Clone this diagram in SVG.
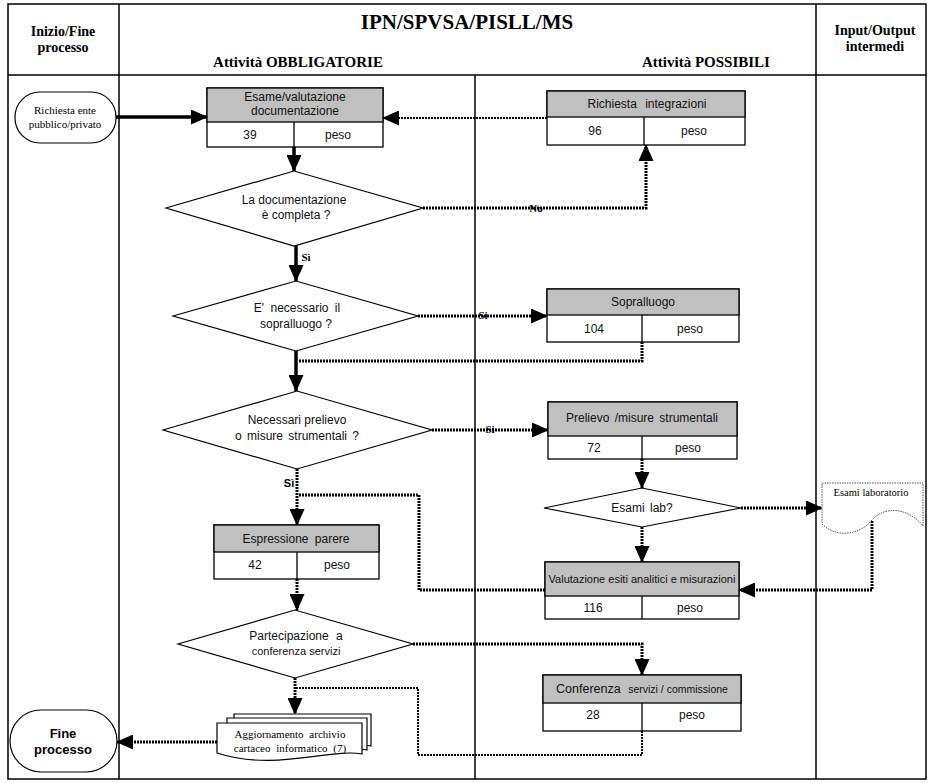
<svg xmlns="http://www.w3.org/2000/svg" width="935" height="783" viewBox="0 0 935 783">
<style>
.frame{fill:none;stroke:#000;stroke-width:1.5}
.box{fill:#fff;stroke:#000;stroke-width:1.3}
.hdr{fill:#c0c0c0;stroke:#000;stroke-width:1.3}
.sh{fill:#fff;stroke:#000;stroke-width:1.2}
.t{font-family:"Liberation Sans",Arial,sans-serif;font-size:12px;fill:#111;text-anchor:middle}
.t11{font-size:11px}
.s{font-family:"Liberation Serif","Times New Roman",serif;fill:#000;text-anchor:middle}
.hb{font-family:"Liberation Serif","Times New Roman",serif;font-weight:bold;fill:#000;text-anchor:middle}
.solid{fill:none;stroke:#000;stroke-width:3.5}
.dot{fill:none;stroke:#000;stroke-width:3;stroke-dasharray:2 1}
.thin{fill:none;stroke:#000;stroke-width:2;stroke-dasharray:2 1}
</style>
<defs>
<marker id="ah" markerUnits="userSpaceOnUse" markerWidth="17" markerHeight="15" viewBox="0 0 17 15" refX="16" refY="7.5" orient="auto">
<path d="M0,0 L17,7.5 L0,15 Z" fill="#000"/>
</marker>
</defs>
<rect width="935" height="783" fill="#fff"/>
<g id="frame">
<rect class="frame" x="8" y="4" width="918" height="775"/>
<line class="frame" x1="8" y1="75" x2="926" y2="75"/>
<line class="frame" x1="119" y1="4" x2="119" y2="779"/>
<line class="frame" x1="816" y1="4" x2="816" y2="779"/>
<line class="frame" x1="475" y1="75" x2="475" y2="779"/>
<text class="hb" x="63" y="36" font-size="14">Inizio/Fine</text>
<text class="hb" x="63" y="52" font-size="14">processo</text>
<text class="hb" x="467" y="29" font-size="21">IPN/SPVSA/PISLL/MS</text>
<text class="hb" x="298" y="67" font-size="15">Attività OBBLIGATORIE</text>
<text class="hb" x="706" y="67" font-size="15">Attività POSSIBILI</text>
<text class="hb" x="875" y="35" font-size="14">Input/Output</text>
<text class="hb" x="875" y="51" font-size="14">intermedi</text>
</g>
<g id="connectors">
<path class="solid" d="M116,117 H207" marker-end="url(#ah)"/>
<path class="solid" d="M294,147 V171" marker-end="url(#ah)"/>
<path class="thin" d="M547,118 H383" marker-end="url(#ah)"/>
<path class="dot" d="M423,208 H646 V145" marker-end="url(#ah)"/>
<path class="solid" d="M296,246 V281" marker-end="url(#ah)"/>
<path class="dot" d="M418,316 H547" marker-end="url(#ah)"/>
<path class="solid" d="M296,351 V391" marker-end="url(#ah)"/>
<path class="dot" d="M642,342 V361 H298"/>
<path class="dot" d="M432,430 H548" marker-end="url(#ah)"/>
<path class="dot" d="M642,459 V488" marker-end="url(#ah)"/>
<path class="dot" d="M741,508 H822" marker-end="url(#ah)"/>
<path class="dot" d="M642,527 V562" marker-end="url(#ah)"/>
<path class="dot" d="M872,521 V590 H739" marker-end="url(#ah)"/>
<path class="dot" d="M545,590 H419 V495 H298"/>
<path class="dot" d="M297,469 V525" marker-end="url(#ah)"/>
<path class="dot" d="M297,579 V610" marker-end="url(#ah)"/>
<path class="dot" d="M413,644 H642 V675" marker-end="url(#ah)"/>
<path class="thin" d="M642,731 V755 H418 V688 H296"/>
<path class="dot" d="M295,678 V714" marker-end="url(#ah)"/>
<path class="dot" d="M217,742 H117" marker-end="url(#ah)"/>
<text class="hb" x="536" y="212" font-size="11">No</text>
<text class="hb" x="306" y="261" font-size="11">Sì</text>
<text class="hb" x="483" y="319" font-size="11">Si</text>
<text class="hb" x="490" y="433" font-size="11">Si</text>
<text x="289" y="487" font-family="Liberation Sans,Arial,sans-serif" font-weight="bold" font-size="11" text-anchor="middle">Sì</text>
</g>
<g id="start">
<rect class="sh" x="15" y="92" width="101" height="51" rx="25" ry="25"/>
<text class="s" x="65" y="114" font-size="11">Richiesta ente</text>
<text class="s" x="65" y="128" font-size="11">pubblico/privato</text>
</g>
<g id="esame">
<rect class="box" x="207" y="88" width="176" height="59"/>
<rect class="hdr" x="207" y="88" width="176" height="34"/>
<line class="box" x1="294" y1="122" x2="294" y2="147"/>
<text class="t" x="295" y="101">Esame/valutazione</text>
<text class="t" x="295" y="115">documentazione</text>
<text class="t" x="250" y="139">39</text>
<text class="t" x="338" y="139">peso</text>
</g>
<g id="integrazioni">
<rect class="box" x="547" y="91" width="198" height="54"/>
<rect class="hdr" x="547" y="91" width="198" height="26"/>
<line class="box" x1="644" y1="117" x2="644" y2="145"/>
<text class="t" x="647" y="108" word-spacing="5">Richiesta integrazioni</text>
<text class="t" x="595" y="135">96</text>
<text class="t" x="694" y="135">peso</text>
</g>
<g id="d-completa">
<polygon class="sh" points="166,208 294,171 423,208 294,246"/>
<text class="t" x="294" y="204">La documentazione</text>
<text class="t" x="296" y="219">è completa ?</text>
</g>
<g id="d-sopralluogo">
<polygon class="sh" points="173,316 296,281 418,316 296,351"/>
<text class="t" x="297" y="312" word-spacing="3">E' necessario il</text>
<text class="t" x="296" y="328">sopralluogo ?</text>
</g>
<g id="sopralluogo">
<rect class="box" x="547" y="289" width="192" height="53"/>
<rect class="hdr" x="547" y="289" width="192" height="26"/>
<line class="box" x1="642" y1="315" x2="642" y2="342"/>
<text class="t" x="643" y="306">Sopralluogo</text>
<text class="t" x="594" y="333">104</text>
<text class="t" x="690" y="333">peso</text>
</g>
<g id="d-prelievo">
<polygon class="sh" points="163,430 297,391 432,430 297,469"/>
<text class="t" x="297" y="424">Necessari prelievo</text>
<text class="t" x="297" y="440" word-spacing="2">o misure strumentali ?</text>
</g>
<g id="prelievo">
<rect class="box" x="548" y="402" width="189" height="57"/>
<rect class="hdr" x="548" y="402" width="189" height="34"/>
<line class="box" x1="642" y1="436" x2="642" y2="459"/>
<text class="t" x="642" y="422" word-spacing="2">Prelievo /misure strumentali</text>
<text class="t" x="594" y="452">72</text>
<text class="t" x="688" y="452">peso</text>
</g>
<g id="d-esamilab">
<polygon class="sh" points="544,508 642,488 741,508 642,527"/>
<text class="t" x="642" y="512" word-spacing="2">Esami lab?</text>
</g>
<g id="esami-laboratorio">
<path d="M822,483 H923 V526 C908,507 884,506 872,520 C862,533 838,540 822,524 Z" fill="#fff" stroke="#555" stroke-width="1" stroke-dasharray="1.5 1"/>
<text class="s" x="871" y="496" font-size="10.5">Esami laboratorio</text>
</g>
<g id="valutazione">
<rect class="box" x="545" y="562" width="194" height="57"/>
<rect class="hdr" x="545" y="562" width="194" height="34"/>
<line class="box" x1="642" y1="596" x2="642" y2="619"/>
<text class="t t11" x="642" y="583">Valutazione esiti analitici e misurazioni</text>
<text class="t" x="593" y="612">116</text>
<text class="t" x="690" y="612">peso</text>
</g>
<g id="espressione">
<rect class="box" x="214" y="525" width="165" height="54"/>
<rect class="hdr" x="214" y="525" width="165" height="27"/>
<line class="box" x1="297" y1="552" x2="297" y2="579"/>
<text class="t" x="296" y="543" word-spacing="3">Espressione parere</text>
<text class="t" x="255" y="569">42</text>
<text class="t" x="337" y="569">peso</text>
</g>
<g id="d-conferenza">
<polygon class="sh" points="178,644 295,610 413,644 295,678"/>
<text class="t" x="296" y="640" word-spacing="4">Partecipazione a</text>
<text class="t t11" x="296" y="655">conferenza servizi</text>
</g>
<g id="conferenza">
<rect class="box" x="543" y="675" width="198" height="56"/>
<rect class="hdr" x="543" y="675" width="198" height="28"/>
<line class="box" x1="642" y1="703" x2="642" y2="731"/>
<text x="642" y="693" font-family="Liberation Sans,Arial,sans-serif" fill="#111" text-anchor="middle"><tspan font-size="12.5">Conferenza  </tspan><tspan font-size="10.5" dx="4">servizi / commissione</tspan></text>
<text class="t" x="593" y="719">28</text>
<text class="t" x="692" y="719">peso</text>
</g>
<g id="aggiornamento">
<path class="sh" d="M234,714 H371 V746 C345,740 300,758 234,744 Z"/>
<path class="sh" d="M227,718 H367 V750 C340,744 295,762 227,748 Z"/>
<path class="sh" d="M217,723 H362 V754 C330,748 275,772 217,753 Z"/>
<text class="s" x="290" y="738" font-size="11" word-spacing="3">Aggiornamento archivio</text>
<text class="s" x="290" y="752" font-size="11" word-spacing="3">cartaceo informatico (7)</text>
</g>
<g id="fine">
<rect class="sh" x="10" y="710" width="107" height="62" rx="31" ry="31"/>
<text x="63" y="738" font-family="Liberation Sans,Arial,sans-serif" font-weight="bold" font-size="13" text-anchor="middle">Fine</text>
<text x="63" y="754" font-family="Liberation Sans,Arial,sans-serif" font-weight="bold" font-size="13" text-anchor="middle">processo</text>
</g>
</svg>
